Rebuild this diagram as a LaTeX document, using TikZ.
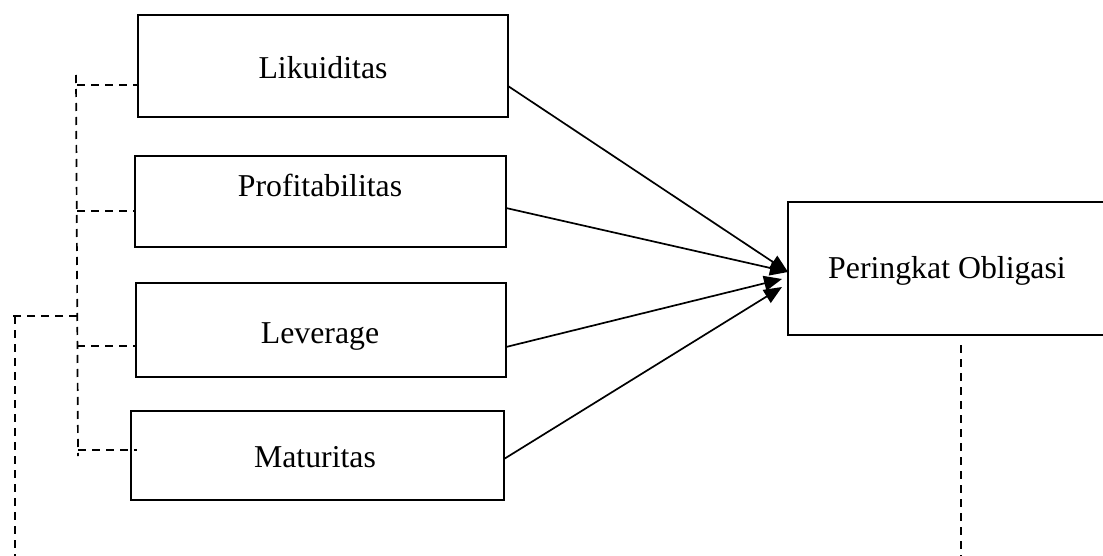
\documentclass[tikz,border=0pt]{standalone}
\usepackage{fontspec}
\setmainfont{Liberation Serif}
\usetikzlibrary{arrows.meta}
\begin{document}
\begin{tikzpicture}[x=0.5pt,y=-0.5pt,
 box/.style={draw, line width=0.9pt, inner sep=0pt, outer sep=0pt},
 lbl/.style={anchor=base, inner sep=0pt, font=\fontsize{15.9}{18}\selectfont},
 arr/.style={line width=0.85pt, -{Triangle[length=9pt,width=7.5pt]}},
 dsh/.style={line width=0.85pt, dash pattern=on 4pt off 3pt}]
\useasboundingbox (0,0) rectangle (1103,556);
\clip (0,0) rectangle (1103,556);
% boxes
\node[box, minimum width=185pt, minimum height=51pt] (lik) at (323,66) {};
\node[box, minimum width=185.5pt, minimum height=45.5pt] (pro) at (320.5,201.5) {};
\node[box, minimum width=185pt, minimum height=47pt] (lev) at (321,330) {};
\node[box, minimum width=186.5pt, minimum height=44.5pt] (mat) at (317.5,455.5) {};
\node[box, minimum width=161pt, minimum height=66.5pt] (per) at (949,268.5) {};
% labels
\node[lbl] (tlik) at (323,79) {Likuiditas};
\node[lbl] (tpro) at (320,196) {Profitabilitas};
\node[lbl] (tlev) at (320,343) {Leverage};
\node[lbl] (tmat) at (315,467) {Maturitas};
\node[lbl] (tper) at (947,278) {Peringkat Obligasi};
% arrow tips
\coordinate (t1) at ([yshift=-1.75pt]per.west);
\coordinate (t3) at (782,279);
\coordinate (t4) at (782,287);
\draw[arr] ([yshift=-10pt]lik.east) -- (t1);
\draw[arr] ([yshift=-3.25pt]pro.east) -- (t1);
\draw[arr] ([yshift=-8.5pt]lev.east) -- (t3);
\draw[arr] ([yshift=-1.75pt]mat.east) -- (t4);
% dashed connectors
\coordinate (vtop) at (76,75);
\coordinate (vbot) at (78,456);
\coordinate (d1) at (77,85);
\coordinate (d2) at (77,211);
\coordinate (d3) at (77,346);
\coordinate (d4) at (78,450);
\coordinate (lj) at (77,316);
\coordinate (lx) at (10,316);
\coordinate (lc) at (15,316);
\coordinate (lb) at (15,560);
\coordinate (rb) at (961,560);
\draw[dsh] (vtop) -- (vbot);
\draw[dsh] (d1) -- (d1 -| lik.west);
\draw[dsh] (d2) -- (d2 -| pro.west);
\draw[dsh] (d3) -- (d3 -| lev.west);
\draw[dsh] (d4) -- ([xshift=3pt]d4 -| mat.west);
\draw[dsh] (lj) -- (lx);
\draw[dsh] (lc) -- (lb);
\draw[dsh] ([yshift=-5pt]per.south -| rb) -- (rb);
\end{tikzpicture}
\end{document}
